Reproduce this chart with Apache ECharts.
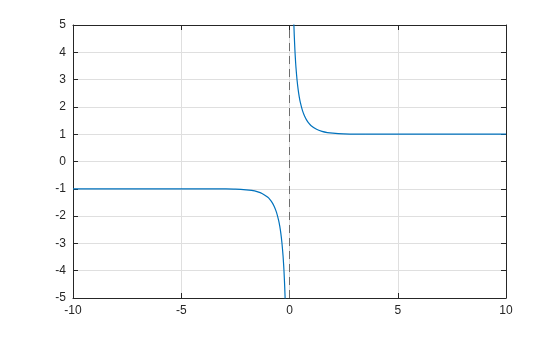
<!DOCTYPE html>
<html><head><meta charset="utf-8">
<script src="https://cdn.jsdelivr.net/npm/echarts@6/dist/echarts.min.js"></script>
<style>html,body{margin:0;padding:0;background:#fff}#c{width:560px;height:337px}</style>
</head><body><div id="c"></div>
<script>
// Values
var xTicks = [-10, -5, 0, 5, 10];
var yTicks = [-5, -4, -3, -2, -1, 0, 1, 2, 3, 4, 5];
var leftX = [-10, -8, -6, -5, -4, -3.5, -3, -2.5, -2, -1.75, -1.5, -1.25, -1, -0.9, -0.8, -0.7, -0.6, -0.5, -0.45, -0.4, -0.35, -0.3, -0.27, -0.25, -0.22, -0.2];
var leftY = [-1, -1, -1, -1, -1.001, -1.002, -1.005, -1.013, -1.037, -1.061, -1.105, -1.178, -1.313, -1.396, -1.506, -1.655, -1.862, -2.164, -2.369, -2.632, -2.977, -3.433, -3.797, -4.083, -4.620, -5.067];
var rightX = [0.2, 0.22, 0.25, 0.27, 0.3, 0.35, 0.4, 0.45, 0.5, 0.6, 0.7, 0.8, 0.9, 1, 1.25, 1.5, 1.75, 2, 2.5, 3, 3.5, 4, 5, 6, 8, 10];
var rightY = [5.067, 4.620, 4.083, 3.797, 3.433, 2.977, 2.632, 2.369, 2.164, 1.862, 1.655, 1.506, 1.396, 1.313, 1.178, 1.105, 1.061, 1.037, 1.013, 1.005, 1.002, 1.001, 1, 1, 1, 1];
var asymX = [0, 0];
var asymY = [-5, 5];

function pairs(a, b) { return a.map(function (v, i) { return [v, b[i]]; }); }

var font = 'Liberation Sans, Arial, Helvetica, sans-serif';
var chart = echarts.init(document.getElementById('c'), null, {renderer: 'canvas'});
var axisLine = {show: true, onZero: false, lineStyle: {color: '#262626', width: 1}};
var tick = {show: true, inside: true, length: 5, lineStyle: {color: '#262626'}};
chart.setOption({
  animation: false,
  backgroundColor: '#fff',
  grid: {left: 73, right: 54, top: 25, bottom: 39, containLabel: false},
  xAxis: [{
    type: 'value', min: -10, max: 10, interval: 5,
    axisLine: axisLine, axisTick: tick,
    axisLabel: {color: '#262626', fontFamily: font, fontSize: 12, margin: 7},
    splitLine: {show: true, lineStyle: {color: '#dfdfdf', width: 1}}
  }, {
    type: 'value', min: -10, max: 10, interval: 5, position: 'top',
    axisLine: axisLine, axisTick: tick, axisLabel: {show: false}, splitLine: {show: false}
  }],
  yAxis: [{
    type: 'value', min: -5, max: 5, interval: 1,
    axisLine: axisLine, axisTick: tick,
    axisLabel: {color: '#262626', fontFamily: font, fontSize: 12, margin: 7},
    splitLine: {show: true, lineStyle: {color: '#dfdfdf', width: 1}}
  }, {
    type: 'value', min: -5, max: 5, interval: 1, position: 'right',
    axisLine: axisLine, axisTick: tick, axisLabel: {show: false}, splitLine: {show: false}
  }],
  series: [{
    type: 'line', data: pairs(asymX, asymY), symbol: 'none',
    lineStyle: {color: '#6e6e6e', width: 1, type: [8, 5]}
  }, {
    type: 'line', data: pairs(leftX, leftY), symbol: 'none', smooth: 0.3, clip: true,
    lineStyle: {color: '#0072BD', width: 1.2}
  }, {
    type: 'line', data: pairs(rightX, rightY), symbol: 'none', smooth: 0.3, clip: true,
    lineStyle: {color: '#0072BD', width: 1.2}
  }]
});
</script>
</body></html>
